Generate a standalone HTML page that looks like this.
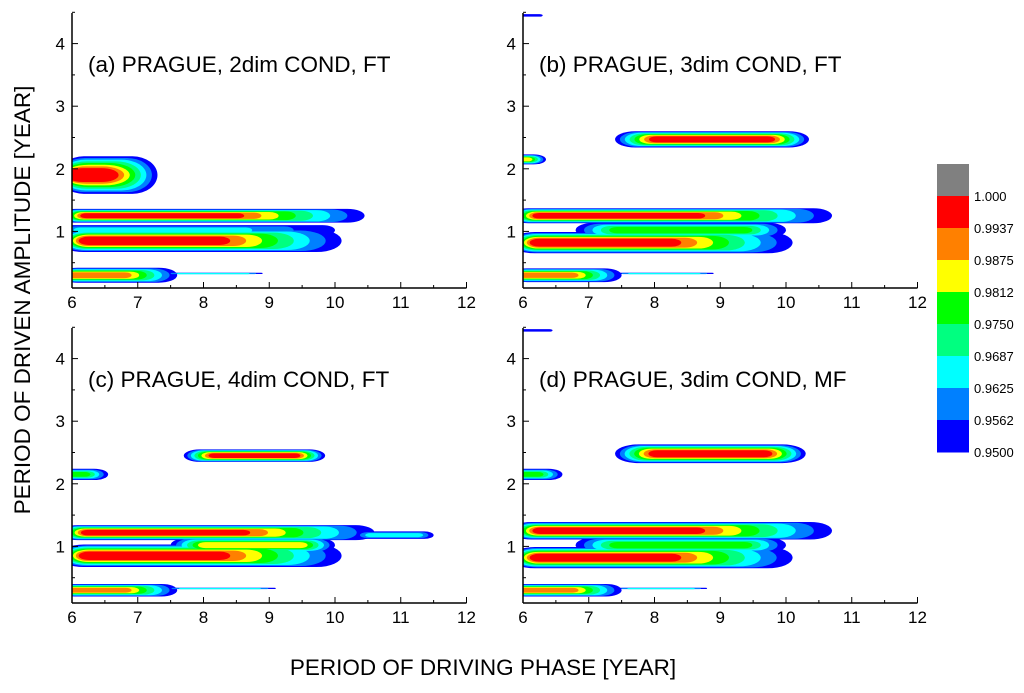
<!DOCTYPE html>
<html><head><meta charset="utf-8"><style>
body{margin:0;background:#fff;}
svg{display:block;font-family:"Liberation Sans",sans-serif;}
</style></head><body>
<svg id="chart" width="1024" height="693" viewBox="0 0 1024 693">
</svg>
<script>
const levelColors=["#0000ff","#0080ff","#00ffff","#00ff80","#00ff00","#ffff00","#ff8000","#ff0000"];
const cbarColors=["#808080","#ff0000","#ff8000","#ffff00","#00ff00","#00ff80","#00ffff","#0080ff","#0000ff"];
const cbarLabels=["1.000","0.9937","0.9875","0.9812","0.9750","0.9687","0.9625","0.9562","0.9500"];
const xTicks=[6,7,8,9,10,11,12];
const yTicks=[1,2,3,4];
const panelTitles=["(a) PRAGUE, 2dim COND, FT","(b) PRAGUE, 3dim COND, FT","(c) PRAGUE, 4dim COND, FT","(d) PRAGUE, 3dim COND, MF"];
// blobs: [xStart, xEnd, yCenter, halfHeight, peakLevel]
const blobsA=[[5.8,7.3,1.9,0.3,7],[5.8,10.45,1.25,0.11,7],[5.8,10.1,0.85,0.18,7],[5.8,10.0,1.02,0.08,2],[5.8,7.6,0.3,0.12,6],[7.4,8.9,0.33,0.01,2]];
const blobsB=[[5.9,6.3,4.45,0.02,0],[7.4,10.35,2.47,0.13,7],[5.8,6.35,2.15,0.08,5],[5.8,10.7,1.25,0.12,7],[5.8,10.1,0.82,0.17,7],[6.8,10.0,1.02,0.12,4],[5.8,7.5,0.3,0.11,6],[7.4,8.9,0.33,0.01,2]];
const blobsC=[[7.7,9.85,2.45,0.1,7],[5.8,6.55,2.15,0.09,4],[5.8,10.6,1.22,0.12,7],[10.3,11.5,1.18,0.06,2],[5.8,10.1,0.85,0.18,7],[7.5,10.0,1.02,0.12,5],[5.8,7.6,0.3,0.1,6],[7.4,9.1,0.33,0.01,2]];
const blobsD=[[5.9,6.45,4.45,0.02,0],[7.4,10.3,2.48,0.15,7],[5.8,6.6,2.15,0.09,4],[5.8,10.7,1.25,0.14,7],[5.8,10.1,0.82,0.17,7],[6.8,10.0,1.02,0.12,4],[5.8,7.5,0.3,0.1,6],[7.4,8.8,0.33,0.01,2]];
const panelBlobs=[blobsA,blobsB,blobsC,blobsD];
const panels=[{x:72,y:0},{x:523,y:0},{x:72,y:315},{x:523,y:315}];
const NS="http://www.w3.org/2000/svg";
const svg=document.getElementById("chart");
function mk(tag,attrs,parent){const e=document.createElementNS(NS,tag);for(const k in attrs)e.setAttribute(k,attrs[k]);(parent||svg).appendChild(e);return e;}
const W=394.5,UX=W/6,UY=62.6;
panels.forEach((p,i)=>{
  const sx=v=>p.x+(v-6)*UX, sy=v=>p.y+294-v*UY;
  const top=p.y+13,bot=p.y+288;
  const g=mk("g",{});
  
  
  const cp=mk("clipPath",{id:"cp"+i},g);
  mk("rect",{x:p.x,y:top,width:W,height:bot-top},cp);
  const cg=mk("g",{"clip-path":"url(#cp"+i+")"},g);
  for(let k=0;k<8;k++){
    panelBlobs[i].forEach(b=>{
      const [x0,x1,yc,hh,pk]=b;
      if(k>pk)return;
      const f=k/(pk+1);
      const len=x1-x0;
      const L=x0<6?x0+len*0.08*f:x0+len*0.2*f, R=x1-len*(x0<6?0.45:0.2)*f;
      const h=hh*(1-0.72*f);
      const X0=sx(L), X1=sx(R);
      const y0=sy(yc+h), y1=sy(yc-h);
      const hy=Math.max(0.6,(y1-y0)/2);
      const r=mk("rect",{x:X0,y:y0,width:Math.max(0,X1-X0),height:Math.max(1.2,y1-y0),rx:Math.min(hy*2.5,25),ry:hy,fill:levelColors[k]},cg);
      
      
    });
  }
  mk("line",{x1:p.x,y1:top,x2:p.x,y2:bot,stroke:"#000","stroke-width":1.5},g);
  mk("line",{x1:p.x,y1:bot,x2:p.x+W,y2:bot,stroke:"#000","stroke-width":1.5},g);
  xTicks.forEach((t,j)=>{
    const x=sx(t);
    mk("line",{x1:x,y1:bot,x2:x,y2:bot-6,stroke:"#000"},g);
    if(j<xTicks.length-1)mk("line",{x1:sx(t+0.5),y1:bot,x2:sx(t+0.5),y2:bot-3,stroke:"#000"},g);
    const tx=mk("text",{x:x,y:bot+20,"font-size":17,"text-anchor":"middle"},g);tx.textContent=t;
    
    
  });
  yTicks.forEach(t=>{
    const y=sy(t);
    mk("line",{x1:p.x,y1:y,x2:p.x+6,y2:y,stroke:"#000"},g);
    mk("line",{x1:p.x,y1:sy(t-0.5),x2:p.x+3,y2:sy(t-0.5),stroke:"#000"},g);
    const tx=mk("text",{x:p.x-7,y:y+6,"font-size":17,"text-anchor":"end"},g);tx.textContent=t;
    
    
  });
  mk("line",{x1:p.x,y1:sy(4.5),x2:p.x+3,y2:sy(4.5),stroke:"#000"},g);
  const tt=mk("text",{x:p.x+16,y:p.y+72,"font-size":22.5},g);tt.textContent=panelTitles[i];
  
  
});
cbarColors.forEach((c,k)=>{
  const r=mk("rect",{x:937,y:164+k*32,width:32,height:32.5,fill:c});
  
  
  const t=mk("text",{x:974,y:164+(k+1)*32+5,"font-size":13});t.textContent=cbarLabels[k];
  
  
});
const yt=mk("text",{x:0,y:0,"font-size":22.5,"text-anchor":"middle",transform:"translate(30,300) rotate(-90)"});
yt.textContent="PERIOD OF DRIVEN AMPLITUDE [YEAR]";


const xt=mk("text",{x:483,y:675,"font-size":22.5,"text-anchor":"middle"});
xt.textContent="PERIOD OF DRIVING PHASE [YEAR]";


</script>
</body></html>
